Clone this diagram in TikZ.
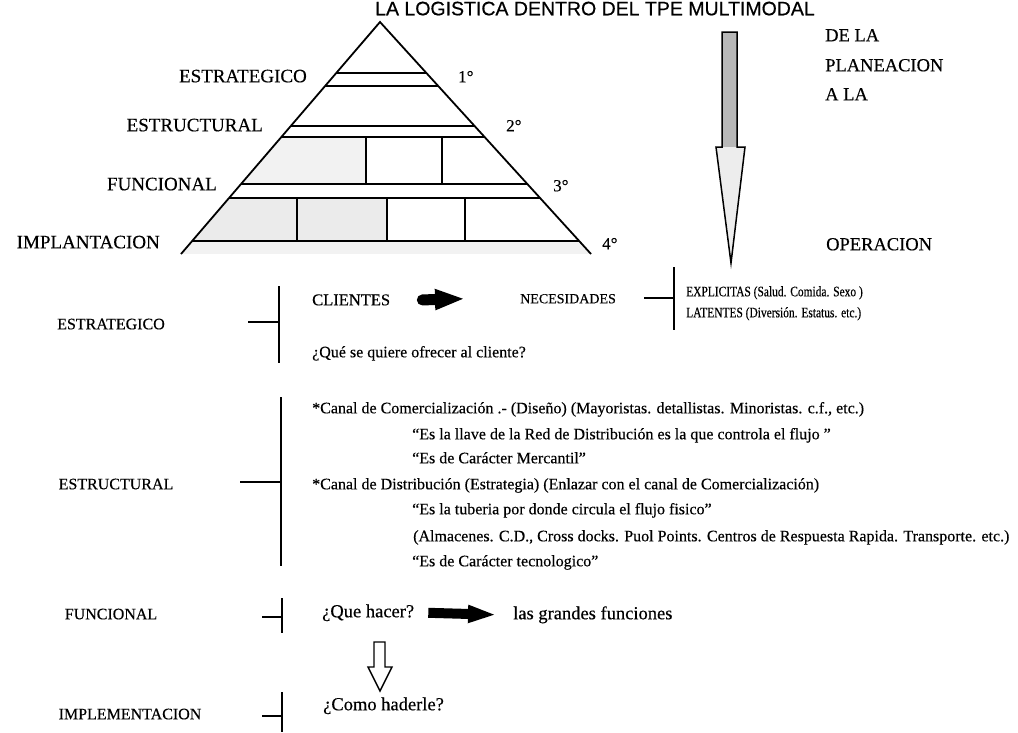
\documentclass[tikz,border=0pt]{standalone}
\usepackage{fontspec}
\setmainfont{Liberation Serif}[FakeBold=0.35]
\newfontfamily\titlefont{Liberation Sans}[FakeBold=0.6]
\newfontfamily\narrowserif{Liberation Serif}[FakeStretch=0.79,FakeBold=0.35]
\usetikzlibrary{arrows.meta,calc}

\tikzset{
  lbl/.style={inner sep=0pt, anchor=mid west},
  lble/.style={inner sep=0pt, anchor=mid east},
  lblc/.style={inner sep=0pt, anchor=mid},
  pyrlabel/.style={lble, font=\fontsize{19}{22}\selectfont},
  deglabel/.style={lbl, font=\fontsize{17}{20}\selectfont},
  sidelabel/.style={lbl, font=\fontsize{18.5}{22}\selectfont},
  levellabel/.style={lblc, font=\fontsize{16}{19}\selectfont},
  rowtext/.style={lbl, font=\fontsize{16}{19}\selectfont},
  bigtext/.style={lbl, font=\fontsize{18.5}{22}\selectfont},
  needtext/.style={lbl, font=\narrowserif\fontsize{14.5}{17}\selectfont},
  pyr/.style={line width=1.8pt},
  brace/.style={line width=1.7pt},
  blockarrow/.style={line width=11pt, -{Triangle[length=30pt,width=19pt]}},
}

\begin{document}
\begin{tikzpicture}[x=1pt, y=-1pt]
\useasboundingbox (0,0) rectangle (1018,732);

% ---- title ----
\node[lbl, font=\titlefont\fontsize{19.5}{22}\selectfont] (title) at (375,13)
  {LA LOGISTICA DENTRO DEL TPE MULTIMODAL};

% ---- pyramid ----
\coordinate (apex) at (380,22);
\coordinate (pl) at (181,254);
\coordinate (pr) at (591,254);
\begin{scope}
  \clip (apex) -- (pl) -- (pr) -- cycle;
  % light stippled courses
  \fill[black!5] (150,137) rectangle (366,184);
  \fill[black!8] (150,198) rectangle (387,241);
  \fill[black!5] (150,241) rectangle (620,254);
  % courses
  \foreach \yy in {73,86,126,137,184,198,241}
    \draw[pyr] (150,\yy) -- (620,\yy);
  % joints between blocks
  \foreach \xx in {366,442}
    \draw[pyr] (\xx,137) -- (\xx,184);
  \foreach \xx in {297,387,465}
    \draw[pyr] (\xx,198) -- (\xx,241);
\end{scope}
\draw[pyr] (pl) -- (apex) -- (pr);

% level names beside the pyramid
\node[pyrlabel] (pE) at (307,80)  {ESTRATEGICO};
\node[pyrlabel] (pS) at (263,129) {ESTRUCTURAL};
\node[pyrlabel] (pF) at (217,188) {FUNCIONAL};
\node[pyrlabel] (pI) at (160,246) {IMPLANTACION};
\node[deglabel] (d1) at (458,80)  {1°};
\node[deglabel] (d2) at (506,129) {2°};
\node[deglabel] (d3) at (553,189) {3°};
\node[deglabel] (d4) at (602,247) {4°};

% ---- planning-to-operation arrow ----
\fill[black!28] (722,32) rectangle (737,147);
\fill[black!7] (716,147) -- (745,147) -- (731,263) -- cycle;
\draw[line width=1.5pt, line join=miter]
  (722,32) -- (737,32) -- (737,147) -- (745,147) -- (731,263)
  -- (716,147) -- (722,147) -- cycle;

\node[sidelabel] (s1) at (825,39)  {DE LA};
\node[sidelabel] (s2) at (825,69)  {PLANEACION};
\node[sidelabel] (s3) at (825,98)  {A LA};
\node[sidelabel] (s4) at (826,248) {OPERACION};

% ---- estrategico ----
\node[levellabel] (lE) at (111,327) {ESTRATEGICO};
\coordinate (bE) at (279,322);
\draw[brace] (279,286) -- (279,363);
\draw[brace] (248,322) -- (bE);

\node[lbl, font=\fontsize{16.5}{19}\selectfont] (cli) at (312,303) {CLIENTES};
\node[lbl, font=\fontsize{14}{17}\selectfont] (nec) at (520,301) {NECESIDADES};
\draw[blockarrow, line cap=round] ([xshift=32pt]cli.east) -- ([xshift=-55pt]nec.west);

\coordinate (bN) at (674,298);
\draw[brace] (674,267) -- (674,330);
\draw[brace] (644,298) -- (bN);
\node[needtext] (exp) at (686,294) {EXPLICITAS (Salud. Comida. Sexo )};
\node[needtext] (lat) at (686,315) {LATENTES (Diversión. Estatus. etc.)};

\node[rowtext] (que) at (312,355) {¿Qué se quiere ofrecer al cliente?};

% ---- estructural ----
\node[levellabel] (lS) at (116,487) {ESTRUCTURAL};
\coordinate (bS) at (281,482);
\draw[brace] (281,397) -- (281,566);
\draw[brace] (240,482) -- (bS);

\node[rowtext] (r1) at (312,411) {*Canal de Comercialización .- (Diseño) (Mayoristas. detallistas. Minoristas. c.f., etc.)};
\node[rowtext] (r2) at (412,437) {“Es la llave de la Red de Distribución es la que controla el flujo ”};
\node[rowtext] (r3) at (412,461) {“Es de Carácter Mercantil”};
\node[rowtext] (r4) at (312,487) {*Canal de Distribución (Estrategia) (Enlazar con el canal de Comercialización)};
\node[rowtext] (r5) at (412,512) {“Es la tuberia por donde circula el flujo fisico”};
\node[rowtext] (r6) at (413,539) {(Almacenes. C.D., Cross docks. Puol Points. Centros de Respuesta Rapida. Transporte. etc.)};
\node[rowtext] (r7) at (412,564) {“Es de Carácter tecnologico”};

% ---- funcional ----
\node[levellabel] (lF) at (111,617) {FUNCIONAL};
\coordinate (bF) at (282,617);
\draw[brace] (282,598) -- (282,633);
\draw[brace] (262,617) -- (bF);

\node[bigtext] (hac) at (322,615) {¿Que hacer?};
\node[bigtext] (fun) at (513,617) {las grandes funciones};
\draw[blockarrow, -{Triangle[length=29pt,width=16pt]}, line width=10pt]
  ([xshift=14pt]hac.east) -- ([xshift=-16pt]fun.west);

% hollow arrow from what to how
\draw[line width=1.4pt, fill=white, line join=miter]
  (374,642) -- (385,642) -- (385,667) -- (392,667) -- (380,691)
  -- (368,667) -- (374,667) -- cycle;

% ---- implementacion ----
\node[levellabel] (lI) at (130,717) {IMPLEMENTACION};
\coordinate (bI) at (282,716);
\draw[brace] (282,692) -- (282,732);
\draw[brace] (262,716) -- (bI);

\node[bigtext] (com) at (323,708) {¿Como haderle?};
\end{tikzpicture}
\end{document}
